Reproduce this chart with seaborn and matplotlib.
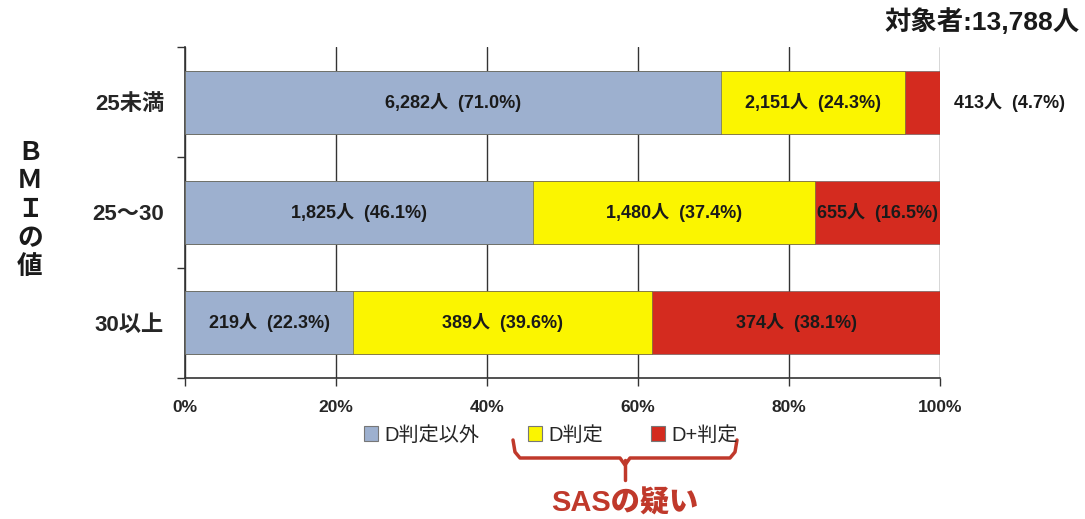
import numpy as np
import pandas as pd
import matplotlib.pyplot as plt
import seaborn as sns
from matplotlib.patches import Patch
from matplotlib.lines import Line2D

# data
categories = ['25未満', '25～30', '30以上']
series = ['D判定以外', 'D判定', 'D+判定']
counts_other = [6282, 1825, 219]
counts_d = [2151, 1480, 389]
counts_dplus = [413, 655, 374]
pct_other = [71.0, 46.1, 22.3]
pct_d = [24.3, 37.4, 39.6]
pct_dplus = [4.7, 16.5, 38.1]
colors = ['#9db0cf', '#fbf500', '#d42b1f']

sns.set_theme(style='white')
plt.rcParams['font.family'] = ['Liberation Sans', 'Noto Sans CJK JP', 'DejaVu Sans']

df = pd.DataFrame({'bmi': categories,
                   'other': pct_other,
                   'd': pct_d,
                   'dplus': pct_dplus})
df['cum1'] = df['other']
df['cum2'] = df['other'] + df['d']
df['cum3'] = df['cum2'] + df['dplus']

fig = plt.figure(figsize=(10.85, 5.19), dpi=100)
ax = fig.add_axes([185/1085, 1-378/519, 755/1085, 331/519])

# stacked bars: draw the totals first, then overlay the shorter ones
for col, c in zip(['cum3', 'cum2', 'cum1'], colors[::-1]):
    sns.barplot(data=df, x=col, y='bmi', order=categories, color=c,
                saturation=1, width=0.57, edgecolor='#555555', linewidth=0.4,
                ax=ax, zorder=3)

ax.set_xlim(0, 100)
ax.set_ylim(2.5, -0.5)
ax.set_xticks(np.arange(0, 101, 20))
ax.set_xticklabels([f'{v}%' for v in range(0, 101, 20)],
                   fontsize=12.5, fontweight='bold')
ax.set_yticks(range(3))
ax.set_yticklabels(categories, fontsize=16, fontweight='bold')
ax.set_yticks([-0.5, 0.5, 1.5, 2.5], minor=True)
ax.tick_params(axis='y', which='major', length=0, pad=15)
ax.tick_params(axis='y', which='minor', length=6, width=1, color='#333333', left=True)
ax.tick_params(axis='x', length=6, width=1, color='#333333', bottom=True, pad=10)
ax.set_xlabel('')
ax.set_ylabel('')
ax.grid(axis='x', color='#333333', linewidth=1)
ax.set_axisbelow(True)
for s in ['top', 'right']:
    ax.spines[s].set_visible(False)
for s in ['left', 'bottom']:
    ax.spines[s].set_color('#333333')
    ax.spines[s].set_linewidth(1.2)

# bar labels
for i in range(3):
    segs = [(0, pct_other[i], counts_other[i]),
            (pct_other[i], pct_d[i], counts_d[i]),
            (pct_other[i] + pct_d[i], pct_dplus[i], counts_dplus[i])]
    for j, (start, w, n) in enumerate(segs):
        txt = f'{n:,}人  ({w:.1f}%)'
        if w < 10:
            ax.text(101.8, i, txt, ha='left', va='center', fontsize=13,
                    fontweight='bold', color='#1a1a1a', clip_on=False)
        else:
            ax.text(start + w / 2, i, txt, ha='center', va='center',
                    fontsize=13, fontweight='bold', color='#1a1a1a', zorder=5)

# title at top right
fig.text(1080/1085, 1-22/519, '対象者:13,788人', ha='right', va='center',
         fontsize=19, fontweight='bold', color='#1a1a1a')

# vertical axis label
fig.text(30/1085, 1-210/519, 'Ｂ\nＭ\nＩ\nの\n値', ha='center', va='center',
         fontsize=18.5, fontweight='bold', color='#1a1a1a', linespacing=1.25)

# legend
handles = [Patch(facecolor=c, edgecolor='#777777', linewidth=0.8) for c in colors]
fig.legend(handles, series, loc='center', bbox_to_anchor=(551/1085, 1-435/519),
           ncol=3, frameon=False, fontsize=14.5, handlelength=0.7, handleheight=0.7,
           handletextpad=0.3, columnspacing=2.4)

# bracket under the D / D+ legend entries
red = '#c0392b'
W, H = 1085, 519
bx = [513, 515, 520, 620, 625, 630, 730, 735, 737]
by = [440, 452, 458, 458, 465, 458, 458, 452, 440]
fig.add_artist(Line2D([x / W for x in bx], [1 - y / H for y in by],
                      color=red, linewidth=2.5, transform=fig.transFigure))
fig.add_artist(Line2D([625 / W, 625 / W], [1 - 460 / H, 1 - 480 / H],
                      color=red, linewidth=2.5, transform=fig.transFigure))
fig.text(625/1085, 1-503/519, 'SASの疑い', ha='center', va='center',
         fontsize=21, fontweight='heavy', color=red)

fig.savefig('out.png', dpi=100)
